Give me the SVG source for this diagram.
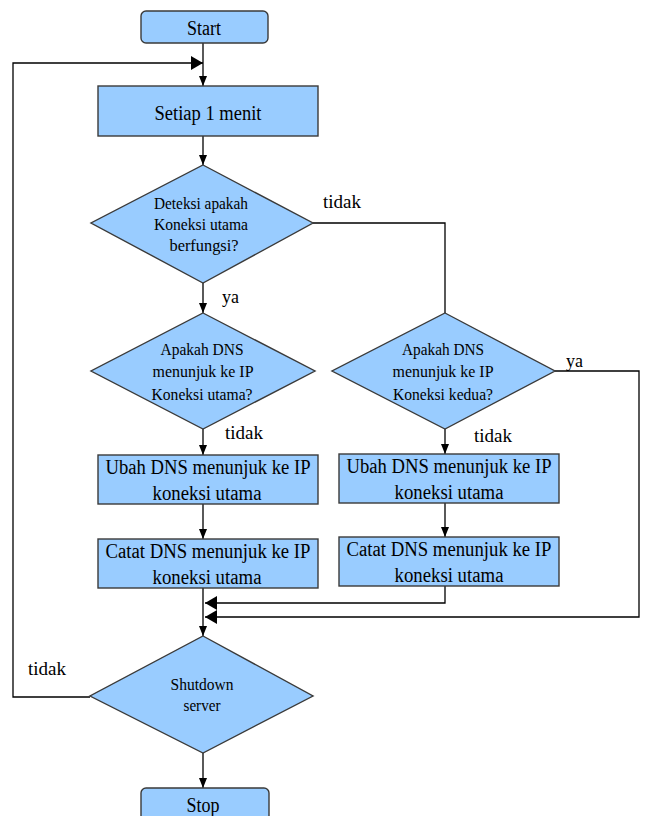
<svg xmlns="http://www.w3.org/2000/svg" width="646" height="816" viewBox="0 0 646 816">
<style>
.shape{fill:#99ccff;stroke:#3a3a3a;stroke-width:1.4}
.line{fill:none;stroke:#000;stroke-width:1.3}
text{font-family:'Liberation Serif','Times New Roman',serif;fill:#000}
.bt{font-size:20px;text-anchor:middle}
.dt{font-size:17px;text-anchor:middle}
.lb{font-size:18px}
</style>
<defs>
<marker id="arr" markerUnits="userSpaceOnUse" markerWidth="10" markerHeight="8" refX="10" refY="4" orient="auto"><path d="M0,0 L10,4 L0,8 z" fill="#000"/></marker>
<marker id="big" markerUnits="userSpaceOnUse" markerWidth="12" markerHeight="14" refX="12" refY="7" orient="auto"><path d="M0,0 L12,7 L0,14 z" fill="#000"/></marker>
</defs>
<rect width="646" height="816" fill="#fff"/>
<g id="connectors">
<path class="line" d="M203,43 V86" marker-end="url(#arr)"/>
<path class="line" d="M90,697 H13 V63 H203" marker-end="url(#big)"/>
<path class="line" d="M203,136 V165" marker-end="url(#arr)"/>
<path class="line" d="M203,283 V313" marker-end="url(#arr)"/>
<path class="line" d="M313,223 H445 V313"/>
<path class="line" d="M203,429 V455" marker-end="url(#arr)"/>
<path class="line" d="M203,504 V539" marker-end="url(#arr)"/>
<path class="line" d="M203,588 V636" marker-end="url(#arr)"/>
<path class="line" d="M445,429 V454" marker-end="url(#arr)"/>
<path class="line" d="M445,503 V537" marker-end="url(#arr)"/>
<path class="line" d="M445,586 V603 H205" marker-end="url(#big)"/>
<path class="line" d="M555,371 H639 V617 H205" marker-end="url(#big)"/>
<path class="line" d="M203,753 V788" marker-end="url(#arr)"/>
<text class="lb" x="323" y="208" textLength="38" lengthAdjust="spacingAndGlyphs">tidak</text>
<text class="lb" x="222" y="303" textLength="17" lengthAdjust="spacingAndGlyphs">ya</text>
<text class="lb" x="225" y="439" textLength="38" lengthAdjust="spacingAndGlyphs">tidak</text>
<text class="lb" x="474" y="442" textLength="38" lengthAdjust="spacingAndGlyphs">tidak</text>
<text class="lb" x="566" y="367" textLength="17" lengthAdjust="spacingAndGlyphs">ya</text>
<text class="lb" x="28" y="675" textLength="38" lengthAdjust="spacingAndGlyphs">tidak</text>
</g>
<g id="start">
<rect class="shape" x="141" y="11" width="127" height="32" rx="5"/>
<text class="bt" x="204" y="35" textLength="34" lengthAdjust="spacingAndGlyphs">Start</text>
</g>
<g id="setiap">
<rect class="shape" x="98" y="86" width="220" height="50"/>
<text class="bt" x="208" y="120" textLength="107" lengthAdjust="spacingAndGlyphs">Setiap 1 menit</text>
</g>
<g id="deteksi">
<polygon class="shape" points="203,165 313,223 203,283 91,223"/>
<text class="dt" x="201" y="209" textLength="94" lengthAdjust="spacingAndGlyphs">Deteksi apakah</text>
<text class="dt" x="201" y="230" textLength="94" lengthAdjust="spacingAndGlyphs">Koneksi utama</text>
<text class="dt" x="204" y="251" textLength="69" lengthAdjust="spacingAndGlyphs">berfungsi?</text>
</g>
<g id="dns-utama">
<polygon class="shape" points="203,313 315,371 203,429 91,371"/>
<text class="dt" x="202" y="355" textLength="83" lengthAdjust="spacingAndGlyphs">Apakah DNS</text>
<text class="dt" x="203" y="377" textLength="101" lengthAdjust="spacingAndGlyphs">menunjuk ke IP</text>
<text class="dt" x="202" y="400" textLength="101" lengthAdjust="spacingAndGlyphs">Koneksi utama?</text>
</g>
<g id="dns-kedua">
<polygon class="shape" points="445,313 555,371 445,429 332,371"/>
<text class="dt" x="443" y="355" textLength="82" lengthAdjust="spacingAndGlyphs">Apakah DNS</text>
<text class="dt" x="443" y="377" textLength="101" lengthAdjust="spacingAndGlyphs">menunjuk ke IP</text>
<text class="dt" x="443" y="400" textLength="100" lengthAdjust="spacingAndGlyphs">Koneksi kedua?</text>
</g>
<g id="ubah-kiri">
<rect class="shape" x="98" y="455" width="220" height="49"/>
<text class="bt" x="208" y="474" textLength="205" lengthAdjust="spacingAndGlyphs">Ubah DNS menunjuk ke IP</text>
<text class="bt" x="207" y="500" textLength="109" lengthAdjust="spacingAndGlyphs">koneksi utama</text>
</g>
<g id="catat-kiri">
<rect class="shape" x="98" y="539" width="220" height="49"/>
<text class="bt" x="208" y="558" textLength="205" lengthAdjust="spacingAndGlyphs">Catat DNS menunjuk ke IP</text>
<text class="bt" x="207" y="584" textLength="109" lengthAdjust="spacingAndGlyphs">koneksi utama</text>
</g>
<g id="ubah-kanan">
<rect class="shape" x="339" y="454" width="220" height="49"/>
<text class="bt" x="449" y="473" textLength="205" lengthAdjust="spacingAndGlyphs">Ubah DNS menunjuk ke IP</text>
<text class="bt" x="449" y="499" textLength="109" lengthAdjust="spacingAndGlyphs">koneksi utama</text>
</g>
<g id="catat-kanan">
<rect class="shape" x="339" y="537" width="220" height="49"/>
<text class="bt" x="449" y="556" textLength="205" lengthAdjust="spacingAndGlyphs">Catat DNS menunjuk ke IP</text>
<text class="bt" x="449" y="582" textLength="109" lengthAdjust="spacingAndGlyphs">koneksi utama</text>
</g>
<g id="shutdown">
<polygon class="shape" points="203,636 313,696 203,753 90,696"/>
<text class="dt" x="202" y="690" textLength="63" lengthAdjust="spacingAndGlyphs">Shutdown</text>
<text class="dt" x="202" y="711" textLength="37" lengthAdjust="spacingAndGlyphs">server</text>
</g>
<g id="stop">
<rect class="shape" x="141" y="788" width="128" height="34" rx="5"/>
<text class="bt" x="203" y="812" textLength="33" lengthAdjust="spacingAndGlyphs">Stop</text>
</g>
</svg>
